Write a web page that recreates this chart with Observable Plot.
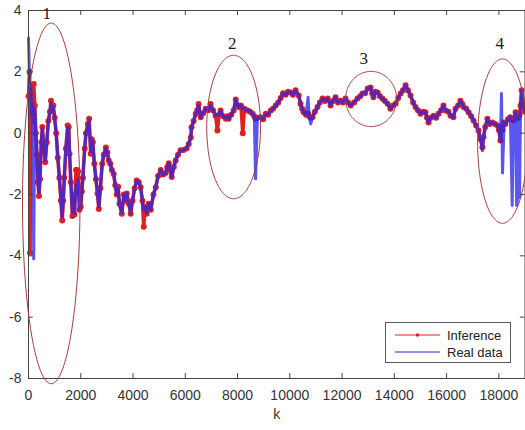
<!DOCTYPE html>
<html>
<head>
<meta charset="utf-8">
<script src="https://cdn.jsdelivr.net/npm/d3@7"></script>
<script src="https://cdn.jsdelivr.net/npm/@observablehq/plot@0.6"></script>
<style>
  html, body { margin: 0; padding: 0; background: #fff; overflow: hidden; }
  #wrap { position: relative; width: 525px; height: 430px; overflow: hidden; background: #fff; }
  #legend { position: absolute; left: 385px; top: 322px; width: 126px; height: 41px;
            border: 1px solid #5a5a5a; background: #fff; box-sizing: border-box; }
</style>
</head>
<body>
<div id="wrap">
  <div id="chart"></div>
  <div id="legend"></div>
</div>
<script>
// Sample index
const k = [
  0, 40, 60, 90, 130, 165, 200, 240, 280, 320,
  360, 400, 440, 490, 530, 570, 640, 700, 760, 820,
  860, 900, 950, 1000, 1060, 1120, 1180, 1240, 1290, 1330,
  1370, 1430, 1500, 1540, 1570, 1620, 1680, 1720, 1760, 1820,
  1850, 1900, 1950, 2000, 2040, 2080, 2150, 2200, 2270, 2320,
  2380, 2420, 2460, 2520, 2580, 2640, 2690, 2750, 2820, 2880,
  2960, 3020, 3070, 3130, 3190, 3260, 3320, 3380, 3430, 3480,
  3570, 3650, 3700, 3760, 3840, 3910, 3980, 4060, 4140, 4220,
  4290, 4360, 4410, 4460, 4520, 4600, 4680, 4780, 4870, 4960,
  5060, 5150, 5250, 5310, 5370, 5430, 5480, 5560, 5630, 5720,
  5820, 5930, 6050, 6130, 6210, 6240, 6320, 6400, 6460, 6510,
  6590, 6680, 6780, 6880, 6970, 7060, 7160, 7230, 7290, 7350,
  7450, 7550, 7610, 7660, 7760, 7850, 7930, 8040, 8130, 8200,
  8260, 8390, 8480, 8580, 8640, 8690, 8760, 8880, 8980, 9080,
  9170, 9270, 9360, 9460, 9560, 9650, 9740, 9840, 9930, 10030,
  10120, 10220, 10340, 10410, 10470, 10530, 10620, 10700, 10740, 10800,
  10870, 10960, 11060, 11150, 11250, 11350, 11450, 11560, 11650, 11750,
  11840, 11940, 12030, 12130, 12230, 12330, 12460, 12590, 12690, 12780,
  12880, 12980, 13090, 13150, 13200, 13280, 13360, 13450, 13550, 13640,
  13740, 13850, 13950, 14050, 14150, 14240, 14330, 14430, 14520, 14620,
  14720, 14810, 14900, 15000, 15100, 15190, 15250, 15310, 15400, 15500,
  15600, 15690, 15790, 15880, 15960, 16070, 16150, 16260, 16340, 16440,
  16530, 16600, 16650, 16750, 16840, 16940, 17030, 17130, 17220, 17300,
  17370, 17410, 17480, 17560, 17650, 17750, 17850, 17950, 18000, 18060,
  18100, 18140, 18200, 18250, 18350, 18440, 18510, 18560, 18640, 18680,
  18710, 18740, 18760, 18790, 18830, 18870, 18950, 19000
];

// Model output
const inference = [
  1.2, 2.0, -3.9, 1.4, 0.4, 1.0, 1.6, 0.9, 0.0, -0.7,
  -1.6, -2.05, -1.5, -0.3, 0.2, -0.3, -0.95, -0.3, 0.4, 0.7,
  1.06, 0.8, 0.9, 0.5, 0.0, -0.8, -1.45, -2.2, -2.85, -2.2,
  -1.45, -0.5, 0.25, 0.2, -0.67, -1.6, -2.7, -2.0, -2.65, -1.2,
  -1.2, -1.25, -2.5, -2.4, -1.9, -1.45, -0.5, 0.0, 0.3, 0.47,
  -0.67, -0.2, -0.3, -1.0, -1.5, -1.97, -2.47, -1.8, -1.0, -0.7,
  -0.47, -0.63, -0.89, -1.0, -1.2, -1.33, -1.7, -2.0, -1.75, -2.3,
  -2.63, -2.0, -2.2, -1.97, -2.3, -2.63, -2.2, -1.8, -1.54, -1.6,
  -1.76, -2.2, -3.05, -2.41, -2.63, -2.3, -2.5, -2.0, -1.76, -1.4,
  -1.2, -1.35, -1.3, -1.1, -0.98, -1.2, -1.43, -1.1, -0.89, -0.7,
  -0.56, -0.55, -0.5, -0.35, -0.14, 0.19, 0.4, 0.63, 0.75, 0.95,
  0.52, 0.65, 0.8, 0.75, 0.95, 0.75, 0.57, 0.09, 0.6, 0.74,
  0.55, 0.47, 0.55, 0.47, 0.6, 0.74, 1.1, 0.85, 0.9, 0.0,
  0.8, 0.74, 0.7, 0.63, 0.55, 0.47, 0.5, 0.52, 0.45, 0.63,
  0.6, 0.74, 0.8, 0.9, 1.0, 1.15, 1.3, 1.25, 1.35, 1.33,
  1.25, 1.4, 1.23, 0.96, 0.8, 0.68, 0.6, 0.63, 0.55, 0.5,
  0.52, 0.7, 0.85, 1.0, 1.13, 1.05, 1.13, 0.9, 1.05, 1.17,
  1.0, 1.06, 1.0, 1.13, 1.0, 0.9, 1.0, 1.13, 1.2, 1.29,
  1.3, 1.46, 1.49, 1.3, 1.17, 1.35, 1.33, 1.2, 1.12, 1.05,
  0.96, 0.8, 0.9, 0.96, 1.15, 1.29, 1.4, 1.56, 1.4, 1.23,
  1.0, 0.85, 0.75, 0.63, 0.7, 0.68, 0.5, 0.35, 0.5, 0.57,
  0.5, 0.63, 0.75, 0.9, 0.74, 0.7, 0.57, 0.52, 0.8, 0.9,
  1.06, 0.95, 0.85, 0.8, 0.68, 0.55, 0.41, 0.25, 0.09, -0.2,
  -0.46, -0.13, 0.2, 0.47, 0.3, 0.35, 0.3, 0.25, 0.1, -0.24,
  0.2, 0.1, 0.35, 0.3, 0.45, 0.52, 0.45, 0.41, 0.68, 0.55,
  0.5, 0.5, 0.57, 0.6, 0.9, 1.4, 0.85, 0.7
];

// Measured signal
const realData = [
  3.1, 1.8, 1.2, 1.5, 0.5, 1.0, -4.1, 0.8, 0.1, -0.6,
  -1.5, -1.95, -1.4, -0.3, 0.15, -0.3, -0.9, -0.3, 0.4, 0.65,
  1.0, 0.8, 0.85, 0.5, 0.0, -0.75, -1.4, -2.1, -2.75, -2.2,
  -1.45, -0.5, 0.2, 0.15, -0.6, -1.5, -2.6, -2.1, -2.6, -1.7,
  -2.0, -1.5, -2.5, -2.35, -1.9, -1.45, -0.5, 0.0, 0.25, 0.42,
  -0.6, -0.2, -0.3, -1.0, -1.5, -1.95, -2.4, -1.8, -1.0, -0.7,
  -0.5, -0.63, -0.89, -1.0, -1.2, -1.33, -1.7, -2.0, -1.8, -2.3,
  -2.6, -2.0, -2.2, -1.97, -2.3, -2.6, -2.2, -1.8, -1.55, -1.6,
  -1.76, -2.2, -2.5, -2.41, -2.6, -2.3, -2.5, -2.0, -1.76, -1.4,
  -1.2, -1.35, -1.3, -1.1, -0.98, -1.2, -1.43, -1.1, -0.89, -0.7,
  -0.56, -0.55, -0.5, -0.35, -0.14, 0.19, 0.4, 0.63, 0.75, 0.9,
  0.52, 0.65, 0.8, 0.75, 0.92, 0.75, 0.57, 0.6, 0.6, 0.74,
  0.55, 0.47, 0.55, 0.47, 0.6, 0.74, 1.1, 0.85, 0.9, 0.8,
  0.8, 0.74, 0.7, 0.63, 0.55, -1.49, 0.5, 0.52, 0.45, 0.63,
  0.6, 0.74, 0.8, 0.9, 1.0, 1.15, 1.3, 1.25, 1.35, 1.33,
  1.25, 1.4, 1.23, 0.96, 0.8, 0.68, 0.6, 1.17, 0.55, 0.3,
  0.52, 0.7, 0.85, 1.0, 1.13, 1.05, 1.13, 0.9, 1.05, 1.17,
  1.0, 1.06, 1.0, 1.13, 1.0, 0.9, 1.0, 1.13, 1.2, 1.29,
  1.3, 1.46, 1.49, 1.3, 1.17, 1.35, 1.33, 1.2, 1.12, 1.05,
  0.96, 0.8, 0.9, 0.96, 1.15, 1.29, 1.4, 1.56, 1.4, 1.23,
  1.0, 0.85, 0.75, 0.63, 0.7, 0.68, 0.5, 0.35, 0.5, 0.57,
  0.5, 0.63, 0.75, 0.9, 0.74, 0.7, 0.57, 0.52, 0.8, 0.9,
  1.06, 0.95, 0.85, 0.8, 0.68, 0.55, 0.41, 0.25, 0.09, -0.2,
  -0.57, -0.13, 0.2, 0.47, 0.3, 0.35, 0.3, 0.25, 0.1, -0.24,
  1.29, -1.3, 0.35, 0.3, 0.45, 0.52, -2.36, 0.41, 0.68, -2.36,
  -2.2, -1.9, 0.57, -2.1, 0.9, 1.4, 0.85, 0.7
];

const seriesNames = ["Inference", "Real data"];
const xTicks = [0, 2000, 4000, 6000, 8000, 10000, 12000, 14000, 16000, 18000];
const yTicks = [-8, -6, -4, -2, 0, 2, 4];

// Highlighted regions: centre and radii in data units, with their numbers
const regionLabels = ["1", "2", "3", "4"];
const regionCx = [870, 7850, 13110, 18140];
const regionCy = [-2.29, 0.2, 1.115, -0.26];
const regionRx = [1100, 1030, 975, 955];
const regionRy = [5.88, 2.34, 0.9, 2.68];
const labelK = [700, 7800, 12830, 18030];
const labelV = [3.9, 2.93, 2.43, 2.91];

const RED = "#e0201e";
const BLUE = "#2a28ea";
const AXIS = "#444";

const infRows = k.map((x, i) => ({k: x, v: inference[i]}));
const realRows = k.map((x, i) => ({k: x, v: realData[i]}));

// Outline points for each highlighted region
const ellipseRows = [];
regionLabels.forEach((id, j) => {
  for (let s = 0; s <= 180; s++) {
    const t = (s / 180) * 2 * Math.PI;
    ellipseRows.push({id, k: regionCx[j] + regionRx[j] * Math.cos(t), v: regionCy[j] + regionRy[j] * Math.sin(t)});
  }
});
const labelRows = regionLabels.map((t, j) => ({t, k: labelK[j], v: labelV[j]}));

// Inward tick length, expressed in each scale's units
const tickX = 0.16;   // along y
const tickY = 180;    // along x

const chart = Plot.plot({
  width: 525,
  height: 430,
  marginLeft: 28,
  marginRight: 0.5,
  marginTop: 10,
  marginBottom: 52,
  x: {domain: [0, 19000]},
  y: {domain: [-8, 4]},
  style: {fontFamily: "'Liberation Sans', Arial, sans-serif", fontSize: "14px", color: "#333", background: "#fff", overflow: "visible"},
  marks: [
    Plot.axisX({ticks: xTicks, tickSize: 0, tickPadding: 12, tickFormat: d => String(d), label: null, fill: "#333"}),
    Plot.axisY({ticks: yTicks, tickSize: 0, tickPadding: 7, tickFormat: d => String(d), label: null, fill: "#333"}),
    Plot.text(["k"], {frameAnchor: "bottom", dy: 40, fontSize: 14, fill: "#333"}),
    // series
    Plot.line(infRows, {x: "k", y: "v", stroke: RED, strokeWidth: 3.6, strokeLinejoin: "round"}),
    Plot.dot(infRows, {x: "k", y: "v", r: 3, fill: RED, stroke: "none"}),
    Plot.line(realRows, {x: "k", y: "v", stroke: BLUE, strokeWidth: 3, strokeOpacity: 0.78, strokeLinejoin: "round"}),
    // box with inward ticks
    Plot.frame({stroke: AXIS, strokeWidth: 1}),
    Plot.ruleX(xTicks, {x: d => d, y1: -8, y2: -8 + tickX, stroke: AXIS}),
    Plot.ruleX(xTicks, {x: d => d, y1: 4, y2: 4 - tickX, stroke: AXIS}),
    Plot.ruleY(yTicks, {y: d => d, x1: 0, x2: tickY, stroke: AXIS}),
    Plot.ruleY(yTicks, {y: d => d, x1: 19000, x2: 19000 - tickY, stroke: AXIS}),
    // highlighted regions
    Plot.line(ellipseRows, {x: "k", y: "v", z: "id", stroke: "#a63a3a", strokeWidth: 1}),
    Plot.text(labelRows, {x: "k", y: "v", text: "t", fontFamily: "'Liberation Serif', 'Times New Roman', serif", fontSize: 17, fill: "#1a1a1a"})
  ]
});
document.getElementById("chart").appendChild(chart);

// Legend box inside the plot area
const lg = d3.select("#legend").append("svg").attr("width", 124).attr("height", 39)
  .style("font-family", "'Liberation Sans', Arial, sans-serif").style("font-size", "13px");
const legendColors = [RED, BLUE];
seriesNames.forEach((name, i) => {
  const y = 12 + i * 17;
  lg.append("line").attr("x1", 9).attr("x2", 54).attr("y1", y).attr("y2", y)
    .attr("stroke", legendColors[i]).attr("stroke-width", 1);
  if (i === 0) lg.append("circle").attr("cx", 31.5).attr("cy", y).attr("r", 1.8).attr("fill", RED);
  lg.append("text").attr("x", 61).attr("y", y).attr("dy", "0.35em").attr("fill", "#222").text(name);
});
</script>
</body>
</html>
